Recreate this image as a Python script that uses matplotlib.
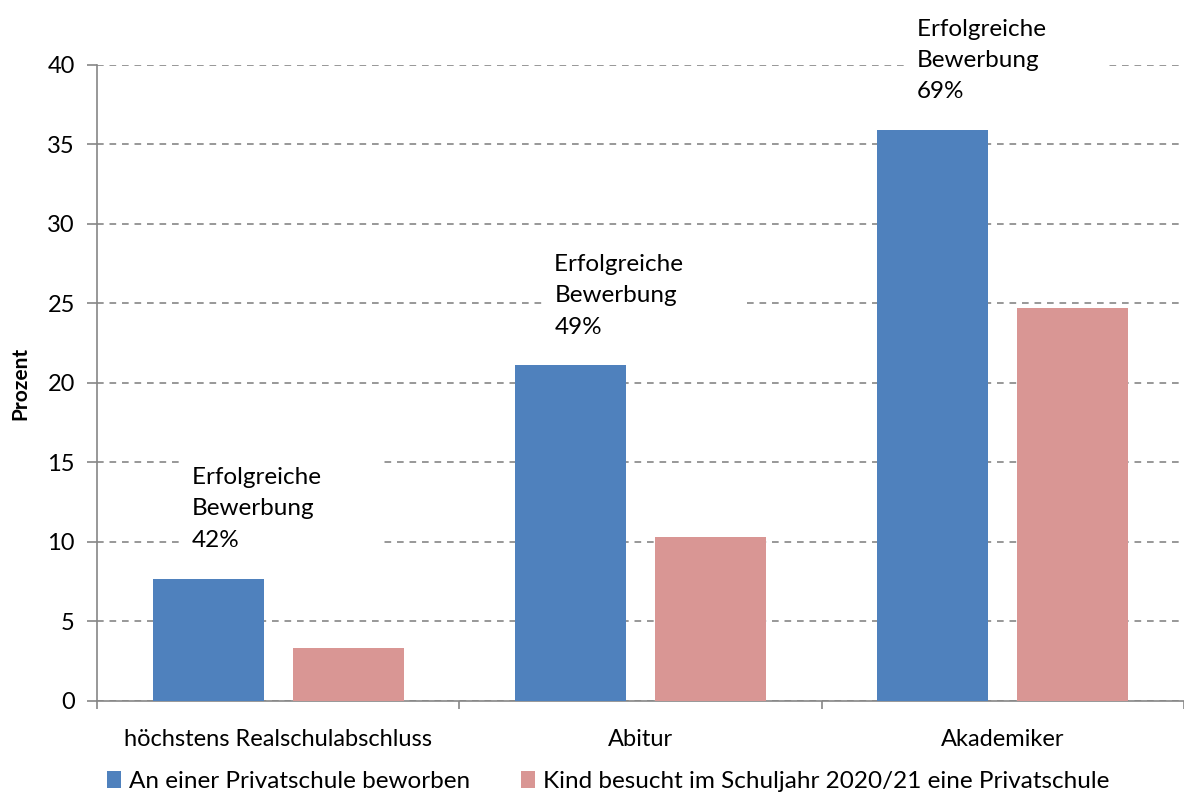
import numpy as np
import matplotlib.pyplot as plt

plt.rcParams["font.family"] = ["Lato", "DejaVu Sans"]

categories = ["höchstens Realschulabschluss", "Abitur", "Akademiker"]
beworben = [7.7, 21.1, 35.9]
besucht = [3.3, 10.3, 24.7]
erfolg = ["42%", "49%", "69%"]
series_labels = ["An einer Privatschule beworben",
                 "Kind besucht im Schuljahr 2020/21 eine Privatschule"]

blue = "#4F81BD"
pink = "#D99694"
grey = "#868686"

fig = plt.figure(figsize=(11.84, 8.02), dpi=100)
ax = fig.add_axes([0.082, 0.126, 0.918, 0.793])

x = np.arange(len(categories))
width = 0.306
offset = 0.193
ax.bar(x - offset, beworben, width, color=blue, label=series_labels[0], zorder=3)
ax.bar(x + offset, besucht, width, color=pink, label=series_labels[1], zorder=3)

ax.set_xlim(-0.5, 2.5)
ax.set_ylim(0, 40)
ax.set_yticks(np.arange(0, 41, 5))
ax.yaxis.grid(True, linestyle=(0, (4, 3.5)), color=grey, linewidth=1.2, zorder=0)
ax.set_axisbelow(True)

ax.set_xticks(x)
ax.set_xticklabels(categories, fontsize=17)
ax.set_xticks(np.arange(-0.5, 2.6, 1), minor=True)
ax.tick_params(axis="x", which="major", length=0, pad=20)
ax.tick_params(axis="x", which="minor", length=6, color=grey, width=1.2)
ax.tick_params(axis="y", length=7, color=grey, width=1.2, labelsize=17, pad=9)

for side in ["top", "right"]:
    ax.spines[side].set_visible(False)
for side in ["left", "bottom"]:
    ax.spines[side].set_color(grey)
    ax.spines[side].set_linewidth(1.2)

ax.set_ylabel("Prozent", fontsize=15, fontweight="bold", labelpad=12)

# Beschriftung über den blauen Balken (Textfeld etwas breiter als der Text)
for i, val in enumerate(beworben):
    label = "Erfolgreiche" + " " * 8 + "\nBewerbung\n" + erfolg[i]
    ax.text(i - offset - 0.045, val + 7.0, label,
            ha="left", va="top", fontsize=17.5, linespacing=1.6,
            bbox=dict(facecolor="white", edgecolor="none", boxstyle="square,pad=0.45"),
            zorder=4, clip_on=False)

leg = ax.legend(loc="upper left", bbox_to_anchor=(0.0, -0.095), ncol=2, frameon=False,
                fontsize=17.5, handlelength=0.6, handleheight=0.7, handletextpad=0.3,
                columnspacing=2.1, borderaxespad=0)

fig.savefig("out.png", dpi=100)
